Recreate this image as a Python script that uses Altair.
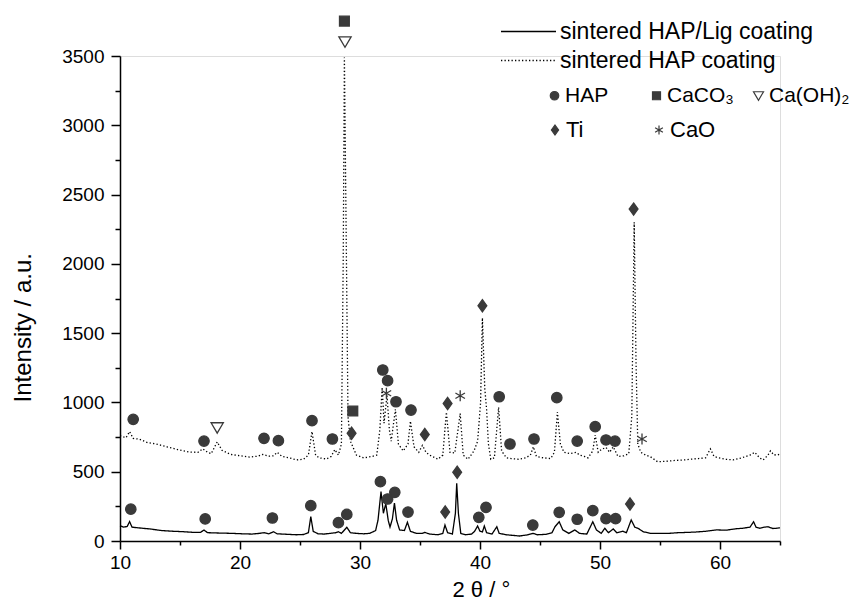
import altair as alt
import pandas as pd

# ---------------- data ----------------
series_names = ["sintered HAP/Lig coating", "sintered HAP coating"]

# solid line: sintered HAP/Lig coating
lig_x = [10.0, 10.3, 10.6, 10.8, 11.0, 11.5, 12.5, 13.5, 14.5, 15.3,
         16.0, 16.7, 17.0, 17.3, 18.0, 19.4, 20.2, 21.0, 21.6, 22.0,
         22.4, 22.8, 23.1, 24.0, 24.7, 25.3, 25.7, 25.9, 26.1, 26.5,
         27.0, 27.5, 28.0, 28.2, 28.45, 28.9, 29.2, 29.7, 30.3, 30.8,
         31.3, 31.5, 31.75, 31.95, 32.15, 32.35, 32.5, 32.7, 32.87, 33.05,
         33.3, 33.7, 33.95, 34.2, 34.7, 35.2, 35.4, 35.8, 36.5, 36.9,
         37.08, 37.3, 37.7, 37.95, 38.06, 38.2, 38.4, 38.8, 39.3, 39.55,
         39.8, 40.0, 40.2, 40.36, 40.55, 41.0, 41.4, 41.6, 42.2, 43.3,
         44.0, 44.4, 44.8, 45.5, 46.0, 46.25, 46.6, 46.9, 47.4, 47.9,
         48.3, 48.9, 49.4, 49.7, 50.1, 50.4, 50.7, 51.1, 51.4, 51.9,
         52.2, 52.6, 52.9, 53.2, 53.6, 54.2, 54.9, 55.7, 56.5, 57.3,
         58.0, 58.8, 59.7, 60.5, 61.3, 61.9, 62.5, 62.8, 63.0, 63.3,
         63.7, 64.0, 64.4, 64.7, 65.0]
lig_y = [110, 100, 105, 140, 100, 95, 87, 75, 70, 67,
         63, 62, 79, 60, 58, 55, 52, 50, 55, 60,
         52, 67, 52, 48, 45, 47, 60, 176, 70, 52,
         50, 55, 60, 67, 55, 99, 60, 55, 52, 55,
         75, 150, 356, 200, 270, 150, 100, 160, 274, 150,
         80, 75, 135, 70, 55, 55, 62, 50, 45, 55,
         115, 60, 50, 200, 416, 200, 55, 45, 50, 70,
         108, 70, 65, 108, 60, 50, 103, 55, 45, 36,
         45, 55, 45, 48, 60, 103, 139, 80, 55, 80,
         55, 50, 139, 80, 55, 92, 60, 87, 60, 70,
         60, 152, 100, 90, 67, 55, 55, 55, 60, 62,
         65, 70, 80, 78, 88, 92, 100, 139, 100, 92,
         100, 103, 90, 92, 95]

# dotted line: sintered HAP coating
hap_x = [10.0, 10.5, 10.8, 11.1, 11.6, 12.3, 13.0, 13.9, 14.8, 15.8,
         16.5, 16.9, 17.3, 17.6, 18.1, 18.5, 19.2, 20.0, 20.8, 21.5,
         21.9, 22.4, 22.8, 23.1, 23.5, 24.2, 24.7, 25.3, 25.7, 26.0,
         26.3, 26.6, 27.2, 27.6, 27.9, 28.2, 28.45, 28.6, 28.7, 28.85,
         29.0, 29.2, 29.4, 29.7, 30.3, 31.0, 31.4, 31.65, 31.85, 32.0,
         32.25, 32.45, 32.6, 32.95, 33.2, 33.6, 34.0, 34.2, 34.5, 34.9,
         35.2, 35.5, 35.8, 36.5, 36.9, 37.2, 37.5, 37.9, 38.35, 38.6,
         39.0, 39.5, 39.8, 40.05, 40.2, 40.4, 40.55, 40.7, 40.9, 41.2,
         41.55, 41.8, 42.2, 42.6, 43.2, 43.8, 44.2, 44.45, 44.7, 45.3,
         45.9, 46.2, 46.45, 46.7, 47.0, 47.5, 48.0, 48.3, 48.7, 49.0,
         49.4, 49.6, 49.85, 50.1, 50.5, 50.8, 51.1, 51.5, 52.0, 52.4,
         52.65, 52.85, 53.0, 53.15, 53.4, 53.8, 54.2, 54.8, 55.5, 56.3,
         56.9, 57.5, 58.2, 58.8, 59.2, 59.5, 59.9, 60.5, 61.1, 61.8,
         62.5, 62.9, 63.3, 63.6, 64.0, 64.2, 64.5, 64.8, 65.0]
hap_y = [760, 745, 790, 740, 735, 710, 700, 680, 660, 642,
         640, 665, 640, 630, 715, 655, 625, 615, 606, 612,
         625, 612, 615, 640, 610, 598, 585, 590, 620, 790,
         620, 600, 592, 610, 660, 620, 700, 2000, 3490, 2200,
         900, 720, 680, 620, 600, 610, 620, 800, 1110, 850,
         1050, 800, 720, 950, 700, 650, 700, 865, 680, 640,
         690, 640, 620, 590, 620, 930, 640, 635, 920, 620,
         590, 650, 720, 1000, 1610, 1100, 950, 700, 590, 600,
         965, 650, 600, 595, 590, 600, 620, 680, 610, 600,
         595, 640, 930, 700, 640, 630, 640, 620, 610, 600,
         650, 765, 640, 660, 675, 640, 680, 610, 615, 630,
         900, 2300, 1300, 700, 640, 620, 608, 572, 575, 582,
         584, 590, 595, 600, 665, 610, 600, 590, 585, 600,
         620, 640, 600, 585, 620, 650, 620, 625, 620]

# phase markers: legend row 1 and legend row 2
phase_row1 = ["HAP", "CaCO\u2083", "Ca(OH)\u2082"]
phase_row2 = ["Ti", "CaO"]

hap_mark_x = [10.9, 17.1, 22.7, 25.9, 28.2, 28.9, 31.7, 32.3, 32.9, 34.0,
              39.9, 40.5, 44.4, 46.6, 48.1, 49.4, 50.5, 51.3,
              11.1, 17.0, 22.0, 23.2, 26.0, 27.7, 31.9, 32.3, 33.0, 34.25,
              41.6, 42.5, 44.5, 46.4, 48.1, 49.6, 50.5, 51.25]
hap_mark_y = [230, 159, 166, 255, 132, 192, 428, 303, 351, 209,
              171, 243, 115, 207, 157, 219, 161, 161,
              878, 721, 741, 724, 868, 736, 1234, 1157, 1005, 945,
              1041, 700, 736, 1034, 721, 825, 729, 721]
caco3_mark_x = [28.7, 29.4]
caco3_mark_y = [3752, 938]
caoh2_mark_x = [18.1, 28.75]
caoh2_mark_y = [818, 3603]
ti_mark_x = [37.1, 38.1, 52.5, 29.3, 35.4, 37.3, 40.2, 52.8]
ti_mark_y = [209, 496, 267, 777, 768, 992, 1698, 2395]
cao_mark_x = [32.2, 38.35, 53.5]
cao_mark_y = [1066, 1048, 736]

x_ticks = list(range(10, 66, 5))
y_ticks = list(range(0, 3501, 250))

# ---------------- tables ----------------
line_df = pd.concat([
    pd.DataFrame({"x": lig_x, "y": lig_y, "series": series_names[0]}),
    pd.DataFrame({"x": hap_x, "y": hap_y, "series": series_names[1]}),
], ignore_index=True)

mark_df1 = pd.concat([
    pd.DataFrame({"x": hap_mark_x, "y": hap_mark_y, "phase": phase_row1[0]}),
    pd.DataFrame({"x": caco3_mark_x, "y": caco3_mark_y, "phase": phase_row1[1]}),
    pd.DataFrame({"x": caoh2_mark_x, "y": caoh2_mark_y, "phase": phase_row1[2]}),
], ignore_index=True)
mark_df2 = pd.concat([
    pd.DataFrame({"x": ti_mark_x, "y": ti_mark_y, "phase": phase_row2[0]}),
    pd.DataFrame({"x": cao_mark_x, "y": cao_mark_y, "phase": phase_row2[1]}),
], ignore_index=True)

# ---------------- styling ----------------
FONT = "Liberation Sans"
INK = "#3a3a3a"

CIRCLE = "M-0.85,0A0.85,0.85 0 1,0 0.85,0A0.85,0.85 0 1,0 -0.85,0Z"
SQUARE = "M-0.8,-0.8L0.8,-0.8L0.8,0.8L-0.8,0.8Z"
TRI_DOWN = "M-1,-0.8L1,-0.8L0,0.9Z"
DIAMOND = "M0,-1L0.72,0L0,1L-0.72,0Z"
ASTERISK = "M0,-0.9L0,0.9M-0.78,-0.45L0.78,0.45M-0.78,0.45L0.78,-0.45"

x_axis = alt.Axis(
    values=x_ticks, format="d",
    labelExpr="datum.value % 10 === 0 ? datum.label : ''",
    tickSize=alt.ExprRef(expr="datum.value % 10 === 0 ? 8 : 4"),
    tickWidth=1.5, tickColor="black", domainColor="black", domainWidth=1.5,
    labelFont=FONT, labelFontSize=19, labelColor="black", labelPadding=4,
    labelOverlap=False, labelFlush=False, grid=False,
    title="2 \u03b8 / \u00b0", titleFont=FONT, titleFontSize=22, titleFontWeight="normal",
    titleColor="black", titleX=332, titleY=55, titleAlign="left", titleBaseline="alphabetic",
    titleAngle=0,
)
y_axis = alt.Axis(
    values=y_ticks, format="d",
    labelExpr="datum.value % 500 === 0 ? datum.label : ''",
    tickSize=alt.ExprRef(expr="datum.value % 500 === 0 ? 9 : 5"),
    tickWidth=1.5, tickColor="black", domainColor="black", domainWidth=1.5,
    labelFont=FONT, labelFontSize=19, labelColor="black", labelPadding=7,
    labelOverlap=False, labelFlush=False, grid=False,
    title="Intensity / a.u.", titleFont=FONT, titleFontSize=24, titleFontWeight="normal",
    titleColor="black", titleX=-90, titleY=346, titleAlign="left", titleBaseline="alphabetic",
    titleAngle=270,
)

x_enc = alt.X("x:Q", scale=alt.Scale(domain=[10, 65], nice=False, zero=False), axis=x_axis)
y_enc = alt.Y("y:Q", scale=alt.Scale(domain=[0, 3500], nice=False, zero=False), axis=y_axis)

line_legend = alt.Legend(
    title=None, orient="none", legendX=397, legendY=-36, padding=0,
    symbolType="M-5,0L5,0", symbolSize=121, symbolStrokeWidth=1.3,
    symbolStrokeColor="black", symbolFillColor="transparent",
    labelFont=FONT, labelFontSize=23, labelColor="black", labelOffset=20, labelLimit=400,
    rowPadding=5,
)
phase_common = dict(
    title=None, orient="none", padding=0, direction="horizontal",
    gridAlign="all", symbolSize=100, symbolStrokeWidth=1.2,
    symbolOpacity=1, labelColor="black", labelFont=FONT, labelLimit=200,
)
legend_row1 = alt.Legend(legendX=424, legendY=29, columnPadding=0,
                         labelFontSize=21, labelOffset=0, **phase_common)
legend_row2 = alt.Legend(legendX=424, legendY=63, columnPadding=36,
                         labelFontSize=22, labelOffset=0, **phase_common)

lines = alt.Chart(line_df).mark_line(color="black", strokeWidth=1.3).encode(
    x=x_enc, y=y_enc,
    strokeDash=alt.StrokeDash(
        "series:N",
        scale=alt.Scale(domain=series_names, range=[[1, 0], [1.3, 2.2]]),
        legend=line_legend,
    ),
)

mark_style = dict(filled=True, size=150, opacity=1, strokeWidth=1.3, clip=False)

markers1 = alt.Chart(mark_df1).mark_point(**mark_style).encode(
    x=x_enc, y=y_enc,
    shape=alt.Shape("phase:N", scale=alt.Scale(domain=phase_row1, range=[CIRCLE, SQUARE, TRI_DOWN]),
                    legend=legend_row1),
    fill=alt.Fill("phase:N", scale=alt.Scale(domain=phase_row1, range=[INK, INK, "transparent"]),
                  legend=legend_row1),
    stroke=alt.Stroke("phase:N", scale=alt.Scale(domain=phase_row1, range=[INK, INK, INK]),
                      legend=legend_row1),
)
markers2 = alt.Chart(mark_df2).mark_point(**mark_style).encode(
    x=x_enc, y=y_enc,
    shape=alt.Shape("phase:N", scale=alt.Scale(domain=phase_row2, range=[DIAMOND, ASTERISK]),
                    legend=legend_row2),
    fill=alt.Fill("phase:N", scale=alt.Scale(domain=phase_row2, range=[INK, "transparent"]),
                  legend=legend_row2),
    stroke=alt.Stroke("phase:N", scale=alt.Scale(domain=phase_row2, range=[INK, INK]),
                      legend=legend_row2),
)

chart = alt.layer(lines, markers1, markers2).resolve_scale(
    shape="independent", fill="independent", stroke="independent"
).properties(
    width=660, height=485,
    autosize=alt.AutoSizeParams(type="none"),
    padding={"left": 112, "top": 48, "right": 78, "bottom": 60},
    background="white",
).configure_view(stroke=None).configure(font=FONT)

chart.save("out.html", embed_options={"renderer": "svg", "actions": False})
